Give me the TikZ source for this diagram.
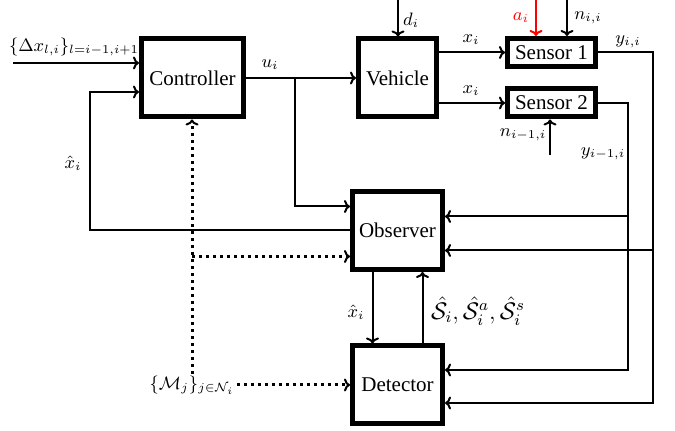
\documentclass[tikz,border=0pt]{standalone}
\usepackage{fontspec}
\setmainfont{Liberation Serif}
\newfontfamily\blkfont{Liberation Serif}
\usepackage{amsmath}
\usepackage{amssymb}
\usepackage{tikz}
\usetikzlibrary{positioning,arrows.meta,calc}

\begin{document}
\begin{tikzpicture}[
  x=0.5pt, y=-0.5pt,
  blk/.style={draw=black, line width=2.5pt, align=center, inner sep=2pt, font=\blkfont\fontsize{10.5}{12}\selectfont, minimum width=45pt, minimum height=39pt},
  sens/.style={blk, minimum width=44pt, minimum height=14pt, inner sep=1pt},
  arr/.style={-{Computer Modern Rightarrow[length=3pt, width=6.5pt]}, line width=1pt},
  dotarr/.style={-{Computer Modern Rightarrow[length=3pt, width=6.5pt, line width=1pt]}, line width=1.5pt, dotted},
  lbl/.style={inner sep=1pt, font=\small},
]
  \useasboundingbox (0,0) rectangle (675,431);
  % blocks
  \node[blk, minimum width=51pt] (ctrl) at (192.5,78) {Controller};
  \node[blk, minimum width=39pt] (veh) at (397.5,78) {Vehicle};
  \node[sens] (s1) at (551.5,52.5) {Sensor 1};
  \node[sens] (s2) at (551.5,103) {Sensor 2};
  \node[blk] (obs) at (397.5,230.5) {Observer};
  \node[blk] (det) at (397.5,385) {Detector};
  \node[lbl] (mj) at (192,385) {$\{\mathcal{M}_j\}_{j\in\mathcal{N}_i}$};
  % free ends and corners
  \coordinate (in) at (13,63);
  \coordinate (fbk) at (90,0);
  \coordinate (ubr) at (295,78);
  \coordinate (dtop) at (398,0);
  \coordinate (atop) at (536,0);
  \coordinate (ntop) at (567,0);
  \coordinate (nbot) at (550,155);
  \coordinate (c1) at (653,403);
  \coordinate (c2) at (628,370);
  \coordinate (oin1) at ([yshift=-10pt]obs.east);
  \coordinate (oin2) at ([yshift=7pt]obs.east);
  \coordinate (oin3) at ([yshift=-13pt]obs.west);
  \coordinate (oin4) at ([yshift=12pt]obs.west);
  % connectors
  \draw[arr] (in) -- (in -| ctrl.west);
  \draw[arr] (obs.west) -- (obs.west -| fbk) |- ([yshift=-7pt]ctrl.west);
  \draw[arr] (ctrl.east) -- (veh.west);
  \draw[arr] (ubr) |- (oin4);
  \draw[arr] (dtop) -- (dtop |- veh.north);
  \draw[arr] (veh.east |- s1) -- (s1.west);
  \draw[arr] (veh.east |- s2) -- (s2.west);
  \draw[arr, red] (atop) -- (atop |- s1.north);
  \draw[arr] (ntop) -- (ntop |- s1.north);
  \draw[arr] (nbot) -- (nbot |- s2.south);
  \draw[arr] (s1.east) -| (c1) -- (c1 -| det.east);
  \draw[arr] (oin1 -| c1) -- (oin1);
  \draw[arr] (s2.east) -| (c2) -- (c2 -| det.east);
  \draw[arr] (oin2 -| c2) -- (oin2);
  \draw[arr] ([xshift=-12.5pt]obs.south) -- ([xshift=-12.5pt]det.north);
  \draw[arr] ([xshift=12.5pt]det.north) -- ([xshift=12.5pt]obs.south);
  \draw[dotarr] (mj.east) -- (det.west);
  \draw[dotarr] (mj.north) -- (mj.north |- ctrl.south);
  \draw[dotarr] (mj.north |- oin3) -- (oin3);
  % labels
  \node[lbl] (ldx) at (74,47) {$\{\Delta x_{l,i}\}_{l=i-1,i+1}$};
  \node[lbl] (lxh) at (73,163) {$\hat{x}_i$};
  \node[lbl] (lui) at (270,65) {$u_i$};
  \node[lbl] (ldi) at (411,20) {$d_i$};
  \node[lbl] (lx1) at (471,40) {$x_i$};
  \node[lbl] (lx2) at (471,91) {$x_i$};
  \node[lbl, red] (lai) at (521,18) {$a_i$};
  \node[lbl] (lnii) at (588,18) {$n_{i,i}$};
  \node[lbl] (lyii) at (628,42) {$y_{i,i}$};
  \node[lbl] (lnim) at (523,135) {$n_{i-1,i}$};
  \node[lbl] (lyim) at (603,154) {$y_{i-1,i}$};
  \node[lbl] (lxo) at (356,312) {$\hat{x}_i$};
  \node[lbl, font=\fontsize{11.5}{13}\selectfont] (lsi) at (478,311) {$\hat{\mathcal{S}}_i, \hat{\mathcal{S}}_i^a, \hat{\mathcal{S}}_i^s$};
\end{tikzpicture}
\end{document}
